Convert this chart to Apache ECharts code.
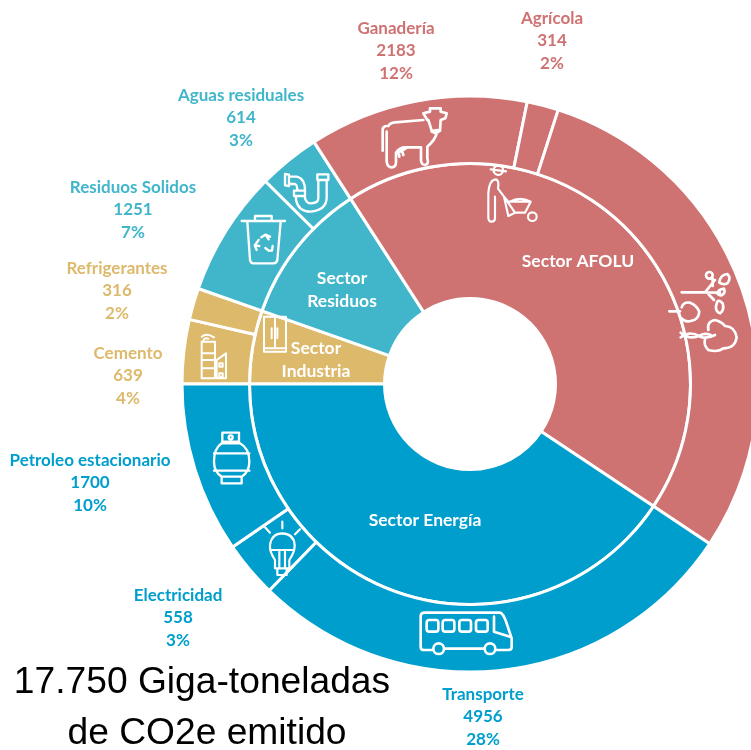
<!DOCTYPE html>
<html lang="es">
<head>
    <meta charset="UTF-8">
    <title>Emisiones de CO2e por sector</title>
    <script src="https://cdn.jsdelivr.net/npm/echarts@6/dist/echarts.min.js"></script>
    <style>
        html, body { margin: 0; padding: 0; background: #fff; overflow: hidden; }
        #main { width: 751px; height: 750px; }
    </style>
</head>
<body>
<div id="main"></div>
<script type="text/javascript">
    // clockwise from the left horizontal
    var sectorNames = ['Sector\nIndustria', 'Sector\nResiduos', 'Sector AFOLU', 'Sector Energía'];
    var sectorValues = [955, 1865, 7716, 7214];
    var sectorColors = ['#DDB96C', '#41B6CB', '#CF7272', '#009ECC'];

    var subNames = ['Cemento', 'Refrigerantes', 'Residuos Solidos', 'Aguas residuales', 'Ganadería', 'Agrícola', 'Forestal', 'Transporte', 'Electricidad', 'Petroleo estacionario'];
    var subValues = [639, 316, 1251, 614, 2183, 314, 5219, 4956, 558, 1700];
    var subSector = [0, 0, 1, 1, 2, 2, 2, 3, 3, 3];

    // label centres, by name (the reference places them by hand)
    var sectorLabelPos = {
        'Sector\nIndustria': [316, 360],
        'Sector\nResiduos': [342, 290],
        'Sector AFOLU': [578, 261],
        'Sector Energía': [425, 520]
    };
    var subLabelPos = {
        'Cemento': [128, 376],
        'Refrigerantes': [117, 291],
        'Residuos Solidos': [133, 210],
        'Aguas residuales': [241, 118],
        'Ganadería': [396, 51],
        'Agrícola': [552, 41],
        'Transporte': [483, 717],
        'Electricidad': [178, 618],
        'Petroleo estacionario': [90, 483]
    };

    var myChart = echarts.init(document.getElementById('main'), null, {renderer: 'canvas'});

    var total = subValues.reduce(function (a, b) { return a + b; }, 0);

    function textLabel(text, pos, color, size) {
        return {
            type: 'text',
            z: 30,
            silent: true,
            x: pos[0],
            y: pos[1],
            style: {
                text: text,
                fill: color,
                align: 'center',
                verticalAlign: 'middle',
                fontFamily: 'Lato',
                fontWeight: 'bold',
                fontSize: size,
                lineHeight: 22.5
            }
        };
    }

    // white line icons, written in the coordinates of a 3x crop
    function icon(name, left, top, pathData, width) {
        echarts.graphic.registerShape(name, echarts.graphic.extendPath(pathData, {}));
        return {
            type: name,
            z: 20,
            silent: true,
            x: left,
            y: top,
            scaleX: 1 / 3,
            scaleY: 1 / 3,
            style: {fill: 'none', stroke: '#fff', lineWidth: width || 8, lineCap: 'round', lineJoin: 'round'}
        };
    }

    var cow = 'M128 182V120Q128 110 138 108M140 125V215Q142 232 155 232Q168 232 168 215V188Q180 170 200 172H243V212Q245 225 255 225Q268 222 262 205V170Q285 150 290 130' +
        'M145 108Q150 98 165 97L250 90M262 90L250 70L270 65V55H302V65L320 70L316 85L302 90L300 122Q285 135 275 122L265 90' +
        'M175 182L178 200M185 180L190 195M198 175L170 190M275 125Q288 118 300 122';
    var farmer = 'M452 238L498 244M461 238A14 14 0 1 1 489 243A14 14 0 1 1 461 238' +
        'M445 385V310Q448 268 468 268Q478 272 474 296L492 320L505 378M445 385Q447 396 455 395Q465 395 465 385V320' +
        'M492 320L505 335H572L555 368H525ZM510 335Q540 318 572 335M505 378L525 368' +
        'M590 380A13 13 0 1 1 564 380A13 13 0 1 1 590 380';
    var trees = 'M125 127H195L225 90M195 127L240 128M205 132L222 150M218 86L218 108' +
        'M218 76A10 10 0 1 1 198 76A10 10 0 1 1 218 76M238 98Q240 75 262 72Q275 85 262 100Q250 106 238 98' +
        'M232 130Q235 118 252 116Q258 128 245 136Q238 138 232 130M232 155Q238 148 248 160Q254 180 240 190Q226 185 228 168Z' +
        'M88 184H120M125 172Q130 155 150 158Q170 165 178 185Q175 210 155 212Q135 218 125 205' +
        'M122 262Q150 240 180 260Q200 268 225 255M122 248Q150 272 180 256Q195 248 212 255' +
        'M205 240Q200 215 225 210Q245 215 255 228Q285 230 290 262Q285 295 250 295Q235 308 205 300Q190 285 195 268';
    var pipe = 'M285 102L297 104V138L285 136ZM297 110H320Q345 115 345 152M297 132H315Q322 135 322 152M312 152H345V168H312Z' +
        'M318 168V180Q325 215 362 215Q408 210 410 175V122M345 168V175Q350 190 362 190Q385 190 385 175V122M382 103H415V120H382Z';
    var bin = 'M155 243H285M195 240V228H245V240M172 245L180 360Q182 370 190 370H250Q260 370 262 360L272 245' +
        'M214 292L226 284L236 298M226 284L240 290M200 330L194 316L206 300M194 316L208 318M236 332H246L248 318M236 332L226 324';
    var fridge = 'M222 530H288V635H222ZM255 530V625M222 625H288M245 565V595M262 565V595';
    var building = 'M35 605H75V715H35ZM35 640H75M35 660H75M35 685H75M35 590Q50 578 72 592M40 605Q40 592 55 596' +
        'M80 660L108 640V715H80ZM88 670H98V680H88ZM88 700H98V712H88Z';
    var bottle = 'M97 65V38H147V65M122 46A6 6 0 1 1 122 58A6 6 0 1 1 122 46M95 70H150Q178 85 178 125Q178 155 155 170H95Q72 155 72 125Q72 85 95 70Z' +
        'M72 100H178M72 152H178M95 172V190H155V172M97 65H147';
    var bulb = 'M255 420Q238 395 240 375Q245 340 277 340Q312 342 314 375Q315 395 298 420V445H255ZM244 390H310M262 445V465H290V445M268 395V445M285 395V445' +
        'M277 305V325M225 322L240 338M330 328L315 343';
    var bus = 'M100 180H72Q62 180 62 170V78Q62 68 75 68H300Q310 70 320 100L335 145V172Q335 180 325 180H288M132 176H254' +
        'M88 90H108Q115 90 115 98V118Q115 125 108 125H88Q80 125 80 118V98Q80 90 88 90Z' +
        'M136 90H156Q163 90 163 98V118Q163 125 156 125H136Q128 125 128 118V98Q128 90 136 90Z' +
        'M186 90H206Q213 90 213 98V118Q213 125 206 125H186Q178 125 178 118V98Q178 90 186 90Z' +
        'M236 90H256Q263 90 263 98V118Q263 125 256 125H236Q228 125 228 118V98Q228 90 236 90Z' +
        'M282 80V125L330 140M132 176A16 16 0 1 1 100 176A16 16 0 1 1 132 176M286 176A16 16 0 1 1 254 176A16 16 0 1 1 286 176';

    var graphics = [
        icon('iconCow', 340, 90, cow),
        icon('iconFarmer', 340, 90, farmer, 6.5),
        icon('iconTrees', 640, 250, trees),
        icon('iconPipe', 190, 140, pipe, 7),
        icon('iconBin', 190, 140, bin, 7),
        icon('iconFridge', 190, 140, fridge, 6),
        icon('iconBuilding', 190, 140, building, 6),
        icon('iconBottle', 190, 420, bottle, 7),
        icon('iconBulb', 190, 420, bulb, 6.5),
        icon('iconBus', 400, 590, bus)
    ];

    sectorNames.forEach(function (name) {
        graphics.push(textLabel(name, sectorLabelPos[name], '#fff', 17.5));
    });
    subNames.forEach(function (name, i) {
        if (subLabelPos[name]) {
            var pct = Math.round(subValues[i] / total * 100);
            graphics.push(textLabel(name + '\n' + subValues[i] + '\n' + pct + '%', subLabelPos[name], sectorColors[subSector[i]], 17));
        }
    });

    var option = {
        animation: false,
        title: [
            {
                text: '17.750 Giga-toneladas',
                left: 197,
                top: 659,
                textAlign: 'center',
                textStyle: {fontFamily: 'Liberation Sans', fontSize: 37.2, fontWeight: 'normal', color: '#000'}
            },
            {
                text: 'de CO2e emitido',
                left: 202,
                top: 710,
                textAlign: 'center',
                textStyle: {fontFamily: 'Liberation Sans', fontSize: 37.2, fontWeight: 'normal', color: '#000'}
            }
        ],
        graphic: graphics,
        series: [
            {
                type: 'pie',
                center: [470, 384],
                radius: [85.5, 220.5],
                startAngle: 180,
                clockwise: true,
                silent: true,
                itemStyle: {borderColor: '#fff', borderWidth: 3},
                label: {show: false},
                labelLine: {show: false},
                data: sectorNames.map(function (name, i) {
                    return {name: name, value: sectorValues[i], itemStyle: {color: sectorColors[i]}};
                })
            },
            {
                type: 'pie',
                center: [470, 384],
                radius: [220.5, 288],
                startAngle: 180,
                clockwise: true,
                silent: true,
                itemStyle: {borderColor: '#fff', borderWidth: 3},
                label: {show: false},
                labelLine: {show: false},
                data: subNames.map(function (name, i) {
                    return {name: name, value: subValues[i], itemStyle: {color: sectorColors[subSector[i]]}};
                })
            }
        ]
    };

    myChart.setOption(option);
</script>
</body>
</html>
